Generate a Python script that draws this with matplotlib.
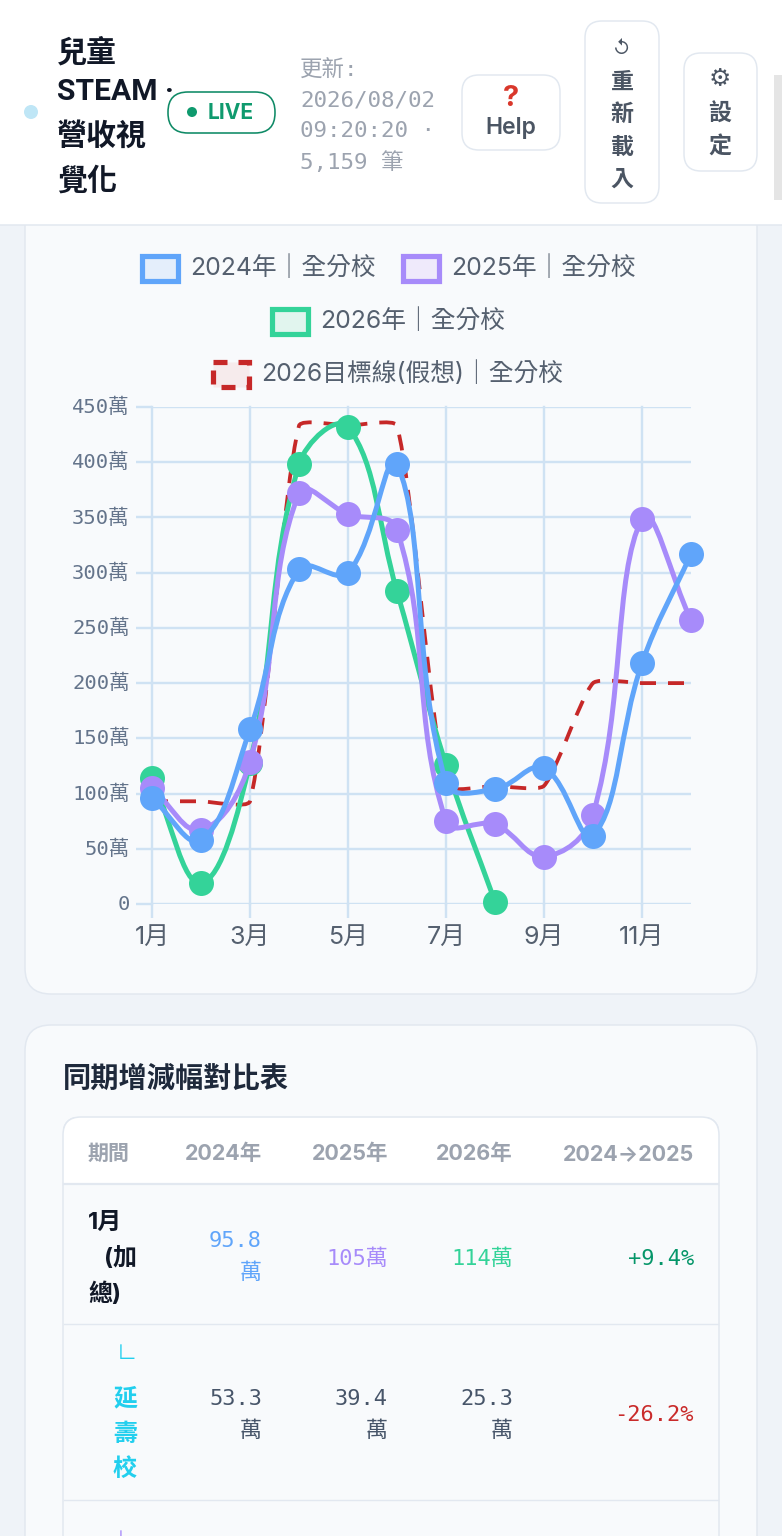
"""Revenue line chart screen, with the header bar and the comparison table below it."""

import matplotlib

matplotlib.use("Agg")
import matplotlib.pyplot as plt
from matplotlib.patches import Circle, FancyBboxPatch, PathPatch, Rectangle
from matplotlib.path import Path
from matplotlib.transforms import ScaledTranslation

WIDTH, HEIGHT = 782, 1536

MONTHS = ["1月", "2月", "3月", "4月", "5月", "6月", "7月", "8月", "9月", "10月", "11月", "12月"]
Y_TICKS = [0, 50, 100, 150, 200, 250, 300, 350, 400, 450]

VALUES_2024 = [95.8, 58, 158, 303, 300, 398, 110, 104, 123, 62, 218, 317]
VALUES_2025 = [105, 67, 129, 372, 353, 339, 75, 72, 43, 81, 349, 257]
VALUES_2026 = [114, 19, 128, 398, 432, 283, 126, 2]
VALUES_TARGET = [93, 93, 93, 433, 433, 433, 107, 107, 107, 200, 200, 200]

TABLE_HEADERS = ["2024年", "2025年", "2026年", "2024→2025"]
TOTAL_ROW = ["95.8\n萬", "105萬", "114萬", "+9.4%"]
BRANCH_ROW = ["53.3\n萬", "39.4\n萬", "25.3\n萬", "-26.2%"]

BLUE = "#60a5fa"
PURPLE = "#a78bfa"
GREEN = "#34d399"
RED = "#c62828"
GRID = "#cfe2f3"
BORDER = "#e2e8f0"
CARD = "#f8fafc"
PAGE = "#eff3f8"
DARK = "#1e293b"
SLATE = "#64748b"
MUTED = "#9ca3af"

SANS = ["Inter", "Noto Sans CJK TC", "DejaVu Sans"]
TITLE = ["Roboto", "Noto Sans CJK TC", "DejaVu Sans"]
MONO = ["DejaVu Sans Mono", "Noto Sans CJK TC", "DejaVu Sans"]

fig = plt.figure(figsize=(WIDTH / 100, HEIGHT / 100), dpi=100, facecolor=PAGE)

# page furniture is drawn in pixel coordinates, y going down
bg = fig.add_axes([0, 0, 1, 1])
bg.set_xlim(0, WIDTH)
bg.set_ylim(HEIGHT, 0)
bg.axis("off")


def txt(x, y, s, px, color=DARK, family=SANS, weight="normal", ha="left", **kw):
    # va=center sits a little high for these fonts
    return bg.text(x, y + 4, s, fontsize=px * 0.72, color=color, family=family,
                   fontweight=weight, ha=ha, va="center", **kw)


def box(x0, y0, x1, y1, radius, face, edge=BORDER, lw=1.5, zorder=1):
    patch = FancyBboxPatch((x0 + radius, y0 + radius), x1 - x0 - 2 * radius, y1 - y0 - 2 * radius,
                           boxstyle=f"round,pad={radius},rounding_size={radius}",
                           fc=face, ec=edge, lw=lw * 0.72, zorder=zorder)
    bg.add_patch(patch)
    return patch


# cards
box(25, 150, 757, 994, 26, CARD)
box(25, 1025, 757, 1620, 26, CARD)

# header
bg.add_patch(Rectangle((0, 0), WIDTH, 225, fc="white", ec="none", zorder=2))
bg.plot([0, WIDTH], [225, 225], color=BORDER, lw=1.1, zorder=3)
bg.add_patch(Rectangle((774, 75), 8, 125, fc="#e5e5e5", ec="none", zorder=3))
bg.add_patch(Circle((31, 112), 7, fc="#bfe6f6", ec="none", zorder=3))

for yy, line in zip([49, 88, 132, 177], ["兒童", "STEAM ·", "營收視", "覺化"]):
    txt(57, yy, line, 30, "#111827", family=TITLE, weight="bold", zorder=4)

box(168, 92, 275, 133, 20, "white", edge="#0f8a66", lw=1.6, zorder=3)
bg.add_patch(Circle((192, 112), 5, fc="#0f9a6e", ec="none", zorder=4))
txt(208, 109, "LIVE", 21, "#0f9a6e", weight="bold", zorder=4)

for yy, line in zip([66, 96, 127, 158], ["更新:", "2026/08/02", "09:20:20 ·", "5,159 筆"]):
    txt(300, yy, line, 22.5, MUTED, family=MONO, zorder=4)

box(462, 75, 560, 150, 17, "white", zorder=3)
txt(511, 94, "?", 29, "#d9372b", ha="center", weight="bold", zorder=4)
txt(511, 124, "Help", 23, "#4b5563", ha="center", weight="semibold", zorder=4)

box(585, 21, 659, 203, 17, "white", zorder=3)
txt(622, 46, "↺", 18, "#4b5563", ha="center", zorder=4)
for yy, line in zip([79, 111, 144, 176], ["重", "新", "載", "入"]):
    txt(622, yy, line, 23, "#4b5563", ha="center", weight="bold", zorder=4)

box(684, 53, 757, 171, 17, "white", zorder=3)
txt(720, 76, "⚙", 25, "#4b5563", ha="center", zorder=4)
for yy, line in zip([111, 144], ["設", "定"]):
    txt(720, yy, line, 23, "#4b5563", ha="center", weight="bold", zorder=4)


# legend
def legend_entry(x, y, label, color, fill, dashed=False):
    rect = Rectangle((x + 1.5, y - 13), 36, 25, fc=fill, ec=color, lw=5.2 * 0.72, zorder=3)
    if dashed:
        rect.set_linestyle((0, (14 / 5.2, 11 / 5.2)))
    bg.add_patch(rect)
    txt(x + 50, y - 5, label, 24.8, "#55606f", zorder=4)


legend_entry(140, 268.5, "2024年｜全分校", BLUE, "#e4eefb")
legend_entry(401, 268.5, "2025年｜全分校", PURPLE, "#efeafb")
legend_entry(270, 321.5, "2026年｜全分校", GREEN, "#e1f5ee")
legend_entry(211, 374.5, "2026目標線(假想)｜全分校", RED, "#f6ebec", dashed=True)

# chart
ax = fig.add_axes([152 / WIDTH, 1 - 904 / HEIGHT, (691 - 152) / WIDTH, (904 - 407) / HEIGHT])
ax.patch.set_alpha(0)
ax.set_xlim(0, len(MONTHS) - 1)
ax.set_ylim(0, 450)
for spine in ax.spines.values():
    spine.set_visible(False)

ax.set_xticks(range(0, len(MONTHS), 2))
ax.set_xticklabels(MONTHS[::2], fontsize=25 * 0.72, color="#55606f", family=SANS)
ax.set_yticks(Y_TICKS)
ax.set_yticklabels([f"{v}萬" if v else "0" for v in Y_TICKS], fontsize=20.5 * 0.72, color=SLATE, family=MONO)
ax.tick_params(axis="x", length=14 * 0.72, width=2.4 * 0.72, color=GRID, pad=6)
ax.tick_params(axis="y", length=16 * 0.72, width=2.4 * 0.72, color=GRID, pad=4.5)
ax.grid(True, color=GRID, lw=2.4 * 0.72)
ax.set_axisbelow(True)
ax.grid(True, axis="x", clip_on=False)
nudge = ScaledTranslation(0, 1.5 / 100, fig.dpi_scale_trans)
for label in ax.get_yticklabels():
    label.set_transform(label.get_transform() + nudge)

X_PX = (691 - 152) / (len(MONTHS) - 1)
Y_PX = (904 - 407) / 450


def spline_path(values, tension=0.4):
    """Cubic path through the values, control points worked out like Chart.js splineCurve."""
    n = len(values)
    before, after = [None] * n, [None] * n
    for i in range(n):
        prev_i, next_i = max(i - 1, 0), min(i + 1, n - 1)
        d01 = ((X_PX * (i - prev_i)) ** 2 + (Y_PX * (values[i] - values[prev_i])) ** 2) ** 0.5
        d12 = ((X_PX * (next_i - i)) ** 2 + (Y_PX * (values[next_i] - values[i])) ** 2) ** 0.5
        total = d01 + d12
        fa = tension * d01 / total
        fb = tension * d12 / total
        dx, dy = next_i - prev_i, values[next_i] - values[prev_i]
        before[i] = (i - fa * dx, values[i] - fa * dy)
        after[i] = (i + fb * dx, values[i] + fb * dy)
    verts = [(0, values[0])]
    codes = [Path.MOVETO]
    for i in range(1, n):
        verts += [after[i - 1], before[i], (i, values[i])]
        codes += [Path.CURVE4] * 3
    return Path(verts, codes)


def draw_series(values, color, zorder):
    ax.add_patch(PathPatch(spline_path(values), fill=False, ec=color, lw=5 * 0.72,
                           zorder=zorder, clip_on=False))
    ax.plot(range(len(values)), values, ls="none", marker="o", ms=25 * 0.72, mfc=color,
            mec=color, mew=0, zorder=zorder, clip_on=False)


ax.add_patch(PathPatch(spline_path(VALUES_TARGET, tension=0.18), fill=False, ec=RED, lw=3.8 * 0.72,
                       ls=(0, (16 / 3.8, 12 / 3.8)), zorder=3, clip_on=False))
draw_series(VALUES_2026, GREEN, 4)
draw_series(VALUES_2025, PURPLE, 5)
draw_series(VALUES_2024, BLUE, 6)

# comparison table
txt(63, 1075, "同期增減幅對比表", 28.2, DARK, weight="bold", zorder=4)
box(63, 1117, 719, 1640, 18, CARD, zorder=2)
header = FancyBboxPatch((81, 1135), 620, 100, boxstyle="round,pad=18,rounding_size=18",
                        fc="white", ec=BORDER, lw=1.1, zorder=3)
bg.add_patch(header)
header.set_clip_path(Rectangle((63, 1117), 656, 67, transform=bg.transData))
bg.plot([64, 718], [1184, 1184], color=BORDER, lw=1.6, zorder=4)
bg.plot([64, 718], [1324, 1324], color=BORDER, lw=1.0, zorder=4)
bg.plot([64, 718], [1500, 1500], color=BORDER, lw=1.0, zorder=4)

COL_RIGHT = [262, 388, 513, 694]
txt(88, 1150, "期間", 21, MUTED, weight="bold", zorder=5)
for xx, label in zip(COL_RIGHT, TABLE_HEADERS):
    txt(xx, 1150, label, 21.5, MUTED, weight="bold", ha="right", zorder=5)

txt(88, 1219, "1月", 24, "#111827", weight="bold", zorder=5)
txt(104, 1255, "(加", 24, "#111827", weight="bold", zorder=5)
txt(88, 1290, "總)", 24, "#111827", weight="bold", zorder=5)


def value_cell(xx, yc, s, color, px=22):
    lines = s.split("\n")
    for i, line in enumerate(lines):
        yy = yc + (i - (len(lines) - 1) / 2) * 32
        txt(xx, yy, line, px, color, family=MONO, ha="right", zorder=5)


for xx, s, col in zip(COL_RIGHT, TOTAL_ROW, [BLUE, PURPLE, GREEN, "#059669"]):
    value_cell(xx, 1253 if "\n" in s else 1255, s, col)

txt(137, 1350, "∟", 20, "#22cfee", ha="right", zorder=5)
for yy, s in zip([1395, 1431, 1466], ["延", "壽", "校"]):
    txt(137, yy, s, 24, "#22cfee", weight="bold", ha="right", zorder=5)
for xx, s, col in zip(COL_RIGHT, BRANCH_ROW, ["#475569", "#475569", "#475569", "#c92a2a"]):
    value_cell(xx, 1411, s, col)

txt(137, 1536, "∟", 20, PURPLE, ha="right", zorder=5)

fig.savefig("out.png", dpi=100, facecolor=PAGE)
